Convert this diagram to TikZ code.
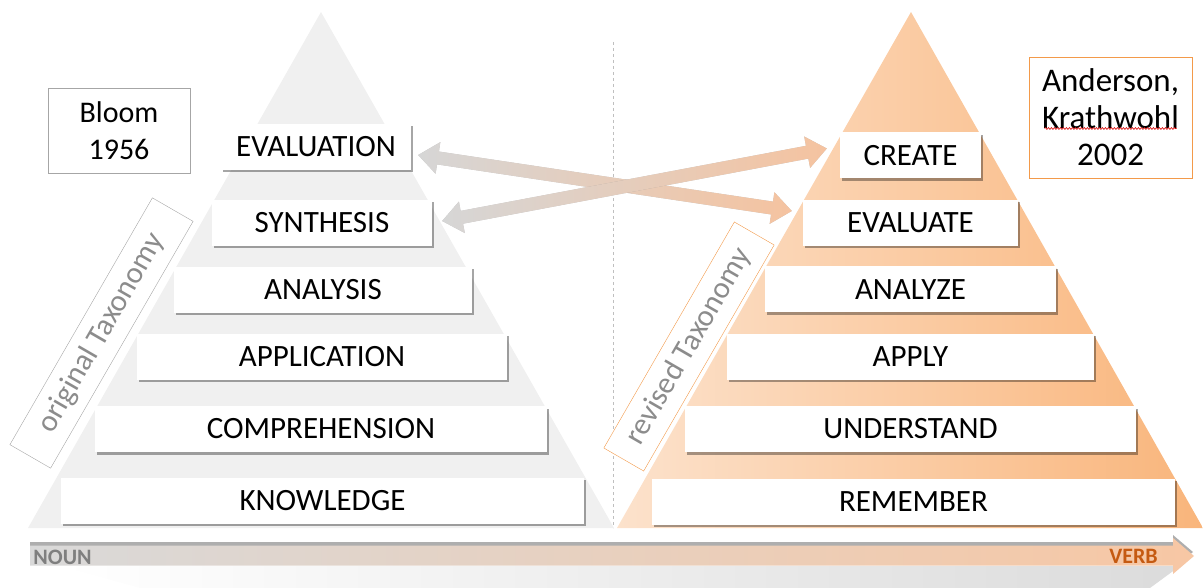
\documentclass[tikz,border=0pt]{standalone}
\usepackage{fontspec}
\setmainfont{Carlito}
\usetikzlibrary{calc,shadows,decorations.pathmorphing}
\definecolor{lgray}{HTML}{F0F0F0}
\definecolor{peachL}{HTML}{FCE2CC}
\definecolor{peachR}{HTML}{F9B57B}
\definecolor{arrgray}{HTML}{D6D6D6}
\definecolor{arrmid}{HTML}{FBE3D2}
\definecolor{arrpeach}{HTML}{F5C3A0}
\definecolor{orangeline}{HTML}{F39A4A}
\definecolor{verbcol}{HTML}{C55A11}
\definecolor{nouncol}{HTML}{7F7F7F}
\definecolor{labcol}{HTML}{8C8C8C}
\definecolor{barL}{HTML}{D9D9D9}
\definecolor{barM}{HTML}{F6E1D4}
\definecolor{barR}{HTML}{F7C7A4}
\newcommand\dblarrow[2]{%
  \coordinate (q1) at ($(#1)!20pt!(#2)$);
  \coordinate (q2) at ($(#2)!20pt!(#1)$);
  \fill[black!45, opacity=.55, shift={(0.5,-2.5)}] (#1) -- ($(q1)!16pt!90:(#2)$) -- ($(q1)!6.5pt!90:(#2)$) -- ($(q2)!6.5pt!-90:(#1)$) -- ($(q2)!16pt!-90:(#1)$) -- (#2) -- ($(q2)!16pt!90:(#1)$) -- ($(q2)!6.5pt!90:(#1)$) -- ($(q1)!6.5pt!-90:(#2)$) -- ($(q1)!16pt!-90:(#2)$) -- cycle;
  \shade[left color=arrgray, middle color=arrmid, right color=arrpeach] (#1) -- ($(q1)!16pt!90:(#2)$) -- ($(q1)!6.5pt!90:(#2)$) -- ($(q2)!6.5pt!-90:(#1)$) -- ($(q2)!16pt!-90:(#1)$) -- (#2) -- ($(q2)!16pt!90:(#1)$) -- ($(q2)!6.5pt!90:(#1)$) -- ($(q1)!6.5pt!-90:(#2)$) -- ($(q1)!16pt!-90:(#2)$) -- cycle;
}
\begin{document}
\begin{tikzpicture}[x=1pt,y=-1pt,
  lvl/.style={fill=white, inner sep=0pt, minimum height=46pt,
    drop shadow={shadow xshift=2pt, shadow yshift=-2.5pt, opacity=0.35, fill=black},
    font=\fontsize{31}{36}\selectfont, text=black},
  taxlabel/.style={fill=white, rotate=60, inner sep=0pt, text=labcol,
    font=\fontsize{30.5}{35}\selectfont},
  infobox/.style={fill=white, align=center, inner sep=0pt},
  tagtext/.style={inner sep=0pt, font=\fontsize{22}{26}\selectfont\bfseries}]
\useasboundingbox (0,0) rectangle (1203,588);
% pyramids
\fill[lgray] (28,528) -- (321,12) -- (614,528) -- cycle;
\shade[left color=peachL, right color=peachR] (617,528) -- (911,12) -- (1203,528) -- cycle;
% divider
\draw[black!25, dash pattern=on 3pt off 3pt] (613,42) -- (613,528);
% left levels
\node[lvl, minimum width=190pt] (evaluation) at (316,147) {EVALUATION};
\node[lvl, minimum width=220pt] (synthesis) at (322,223) {SYNTHESIS};
\node[lvl, minimum width=298pt] (analysis) at (323,290) {ANALYSIS};
\node[lvl, minimum width=370pt] (application) at (322,356.5) {APPLICATION};
\node[lvl, minimum width=452pt] (comprehension) at (321,429) {COMPREHENSION};
\node[lvl, minimum width=523pt] (knowledge) at (322.5,500.5) {KNOWLEDGE};
% right levels
\node[lvl, minimum width=141pt] (create) at (910.5,155.5) {CREATE};
\node[lvl, minimum width=215pt] (evaluate) at (910.5,223) {EVALUATE};
\node[lvl, minimum width=291pt] (analyze) at (910.5,289.5) {ANALYZE};
\node[lvl, minimum width=367pt] (apply) at (910.5,356.5) {APPLY};
\node[lvl, minimum width=451pt] (understand) at (910.5,429) {UNDERSTAND};
\node[lvl, minimum width=523pt] (remember) at (913.5,501.5) {REMEMBER};
% taxonomy labels
\node[taxlabel, draw=black!35, minimum width=285pt, minimum height=47pt] (origlab) at (101.5,333) {original Taxonomy};
\node[taxlabel, draw=orangeline, minimum width=261pt, minimum height=46pt] (revlab) at (689,346.5) {revised Taxonomy};
% info boxes
\node[infobox, draw=black!35, minimum width=142pt, minimum height=85pt, font=\fontsize{30}{37}\selectfont] (bloom) at (119,130.5) {Bloom\\1956};
\node[infobox, draw=orangeline, minimum width=163pt, minimum height=121pt, font=\fontsize{33}{37}\selectfont] (anderson) at (1110.5,117.5) {Anderson,\\Krathwohl\\2002};
\draw[red!85!black, line width=0.6pt, decorate, decoration={snake, amplitude=0.9pt, segment length=3pt}]
  ($(anderson.center)+(-66,11)$) -- ($(anderson.center)+(66,11)$);
% crossing arrows
\coordinate (a1l) at ($(evaluation.east)+(7,8)$);
\coordinate (a1r) at ($(evaluate.west)+(-11,-12)$);
\coordinate (a2l) at ($(synthesis.east)+(10,-2)$);
\coordinate (a2r) at ($(create.west)+(-13,-7)$);
\dblarrow{a1l}{a1r}
\dblarrow{a2l}{a2r}
% bottom arrow
\shade[left color=white, middle color=black!16, right color=black!14] (60,566) -- (1180,566) -- (1150,588) -- (140,588) -- cycle;
\fill[black!45, opacity=.7] (30,542) -- (1173,542) -- (1173,535) -- (1193,552) -- (1173,569) -- (1173,562) -- (30,562) -- cycle;
\shade[left color=barL, middle color=barM, right color=barR] (30,545.5) -- (1173,545.5) -- (1173,538) -- (1194,556) -- (1173,574) -- (1173,565.5) -- (30,565.5) -- cycle;
\node[tagtext, text=nouncol] (noun) at (62.5,557) {NOUN};
\node[tagtext, text=verbcol] (verb) at (1133.5,556) {VERB};
\end{tikzpicture}
\end{document}
